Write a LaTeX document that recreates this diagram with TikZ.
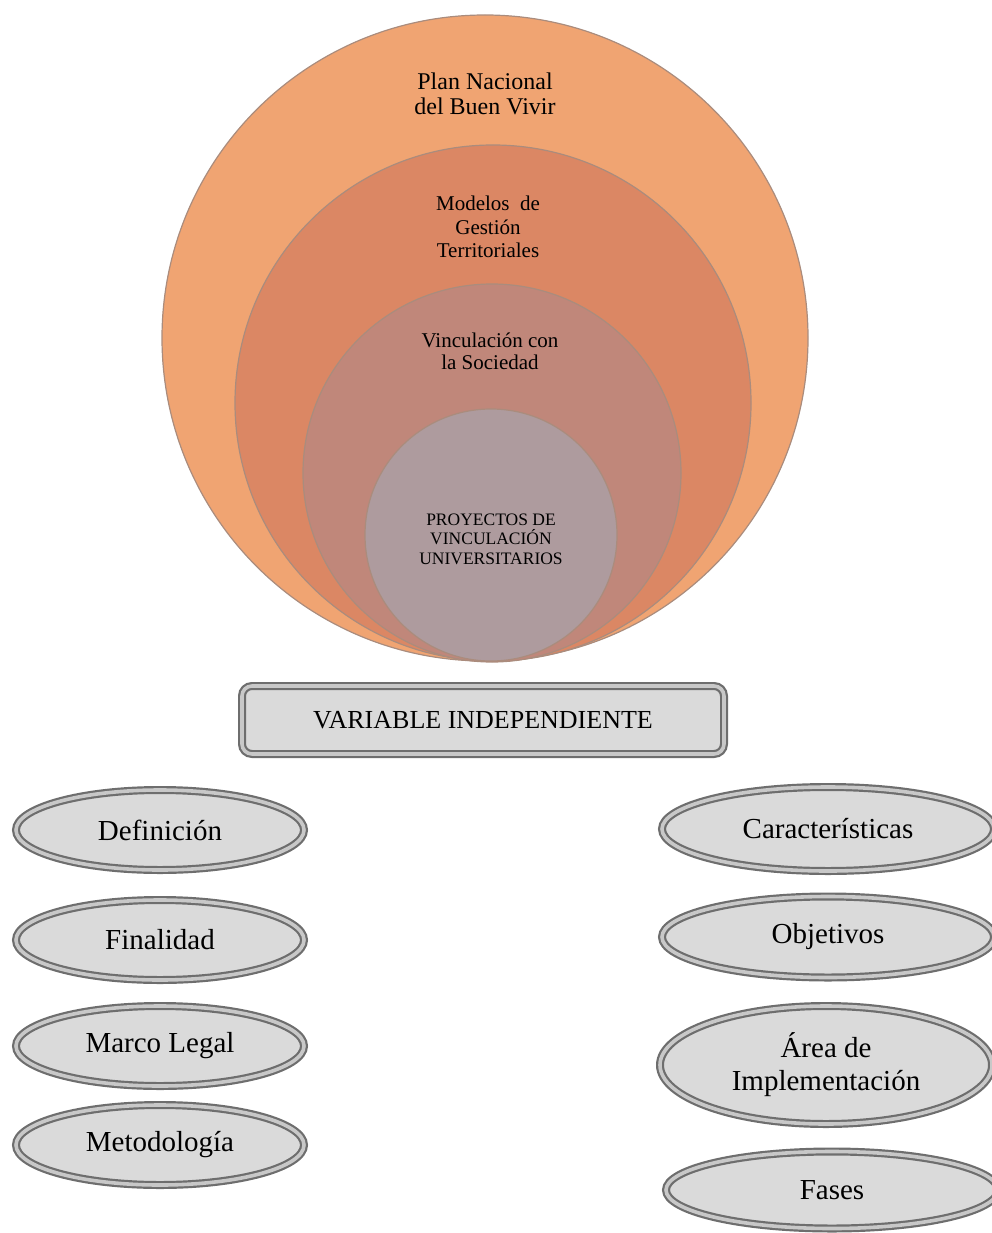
\documentclass[tikz,border=0pt]{standalone}
\usepackage{fontspec}
\setmainfont{Liberation Serif}
\usetikzlibrary{shapes.geometric}
\definecolor{planfill}{RGB}{240,164,114}
\definecolor{modelfill}{RGB}{219,135,100}
\definecolor{vincfill}{RGB}{192,135,122}
\definecolor{proyfill}{RGB}{174,155,158}
\definecolor{ringline}{RGB}{170,140,125}
\definecolor{rimgray}{RGB}{110,110,110}
\definecolor{rimlight}{RGB}{200,200,200}
\definecolor{pillfill}{RGB}{218,218,218}
\begin{document}
\begin{tikzpicture}[x=1pt,y=-1pt,
    ring/.style={circle, inner sep=0pt, minimum size=#1, draw=ringline, line width=1.2pt},
    ringtext/.style={align=center, inner sep=0pt},
    rim/.style={draw=rimgray, line width=2.2pt, double=rimlight, double distance=3.6pt,
      fill=pillfill, align=center, inner sep=0pt, font=\fontsize{29}{33}\selectfont},
    pill/.style 2 args={rim, ellipse, minimum width=#1, minimum height=#2},
    varbox/.style={rim, rectangle, rounded corners=10pt, minimum width=482pt,
      minimum height=68pt, font=\fontsize{26}{30}\selectfont}]
  \useasboundingbox (0,0) rectangle (992,1233);
  \node[ring=646pt, fill=planfill] (plan) at (485,338) {};
  \node[ring=516pt, fill=modelfill] (modelos) at (493,403) {};
  \node[ring=378pt, fill=vincfill] (vinc) at (492,473) {};
  \node[ring=252pt, fill=proyfill] (proy) at (491,535) {};
  \node[ringtext, font=\fontsize{24}{25}\selectfont] (plantxt) at (485,94) {Plan Nacional\\del Buen Vivir};
  \node[ringtext, font=\fontsize{21}{23.5}\selectfont] (modelostxt) at (488,227) {Modelos\ \ de\\Gestión\\Territoriales};
  \node[ringtext, font=\fontsize{21}{22}\selectfont] (vinctxt) at (490,351) {Vinculación con\\la Sociedad};
  \node[ringtext, font=\fontsize{17.5}{19.5}\selectfont] (proytxt) at (491,539) {PROYECTOS DE\\VINCULACIÓN\\UNIVERSITARIOS};
  \node[varbox] (var) at (483,720) {VARIABLE INDEPENDIENTE};
  \node[pill={288pt}{80pt}] (def) at (160,830) {Definición};
  \node[pill={288pt}{80pt}] (fin) at (160,940) {Finalidad};
  \node[pill={288pt}{80pt}] (marco) at (160,1046) {Marco Legal};
  \node[pill={288pt}{80pt}] (metod) at (160,1145) {Metodología};
  \node[pill={332pt}{84pt}] (carac) at (828,829) {Características};
  \node[pill={332pt}{81pt}] (obj) at (828,937) {Objetivos};
  \node[pill={332pt}{118pt}] (area) at (826,1065) {Área de\\Implementación};
  \node[pill={332pt}{77pt}] (fases) at (832,1190) {Fases};
\end{tikzpicture}
\end{document}
